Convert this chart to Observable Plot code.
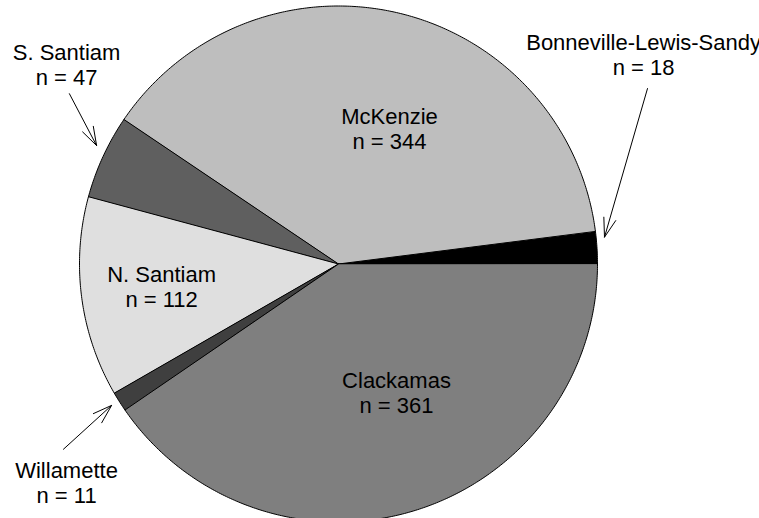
<!DOCTYPE html>
<html><head><meta charset="utf-8">
<script src="https://cdn.jsdelivr.net/npm/d3@7"></script>
<script src="https://cdn.jsdelivr.net/npm/@observablehq/plot@0.6"></script>
<style>
html,body{margin:0;padding:0;background:#fff;overflow:hidden;}
#chart svg{display:block;overflow:hidden;}
</style>
</head><body><div id="chart"></div>
<script>
// Data: pie slices, counter-clockwise from 3 o'clock (R pie order)
const regions = ["Bonneville-Lewis-Sandy", "McKenzie", "S. Santiam", "N. Santiam", "Willamette", "Clackamas"];
const counts = [18, 344, 47, 112, 11, 361];
const sliceColors = ["#000000", "#bebebe", "#5f5f5f", "#dfdfdf", "#3f3f3f", "#7f7f7f"];

// Annotation placement (in pie-radius units, centre = 0,0)
const labelX = [1.178, 0.197, -1.050, -0.683, -1.050, 0.224];
const labelY = [0.813, 0.525, 0.774, -0.087, -0.846, -0.498];
// Arrows for the small slices
const arrowFrom = [0, 2, 4];
const arrowX1 = [1.193, -1.039, -1.062];
const arrowY1 = [0.680, 0.660, -0.718];
const arrowX2 = [1.027, -0.934, -0.876];
const arrowY2 = [0.104, 0.459, -0.548];

const total = d3.sum(counts);
const cum = [0, ...d3.cumsum(counts)];
const slicePts = [];
regions.forEach((name, i) => {
  const a0 = 2 * Math.PI * cum[i] / total;
  const a1 = 2 * Math.PI * cum[i + 1] / total;
  const n = Math.max(2, Math.ceil((a1 - a0) / (Math.PI / 360)));
  slicePts.push({name, color: sliceColors[i], x: 0, y: 0});
  for (let k = 0; k <= n; k++) {
    const a = a0 + (a1 - a0) * k / n;
    slicePts.push({name, color: sliceColors[i], x: Math.cos(a), y: Math.sin(a)});
  }
});

const labels = regions.map((r, i) => ({x: labelX[i], y: labelY[i], text: `${r}\nn = ${counts[i]}`}));
const arrows = arrowFrom.map((r, j) => ({x1: arrowX1[j], y1: arrowY1[j], x2: arrowX2[j], y2: arrowY2[j]}));

const cx = 338, cy = 263.5, rx = 259, ry = 258;
const chart = Plot.plot({
  width: 759,
  height: 518,
  margin: 0,
  x: {domain: [-1, 1], range: [cx - rx, cx + rx], axis: null},
  y: {domain: [-1, 1], range: [cy + ry, cy - ry], axis: null},
  color: {type: "identity"},
  style: {background: "white", fontFamily: "'Liberation Sans', Arial, sans-serif"},
  marks: [
    Plot.line(slicePts, {x: "x", y: "y", z: "name", fill: "color", stroke: "black", strokeWidth: 1, curve: "linear-closed"}),
    Plot.text(labels, {x: "x", y: "y", text: "text", fontSize: 22, lineHeight: 25 / 22, fill: "black", fontFamily: "'Liberation Sans', Arial, sans-serif"}),
    Plot.arrow(arrows, {x1: "x1", y1: "y1", x2: "x2", y2: "y2", stroke: "black", strokeWidth: 1, headLength: 30, headAngle: 36})
  ]
});
document.getElementById("chart").appendChild(chart);
</script>
</body></html>
